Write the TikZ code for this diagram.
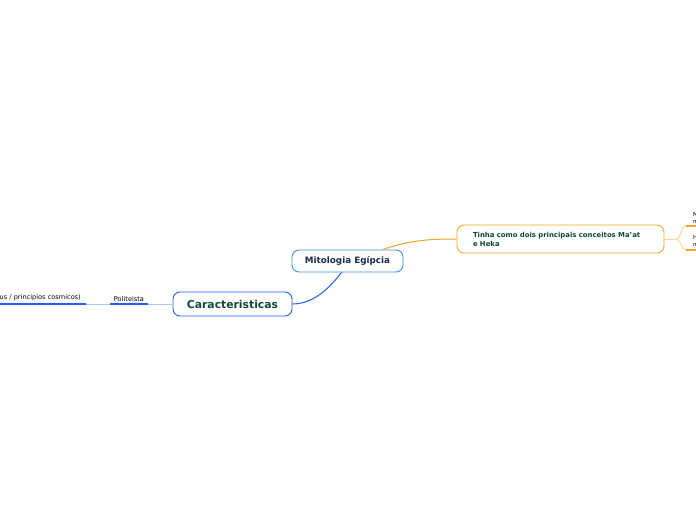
\documentclass[tikz,border=0pt]{standalone}
\usepackage{fontspec}
\setmainfont{DejaVu Sans}
\usetikzlibrary{shapes.geometric, arrows}
\definecolor{mitoblue}{HTML}{3D8FE0}
\definecolor{caracblue}{HTML}{2160F0}
\definecolor{paleblue}{HTML}{A8C8F8}
\definecolor{navytext}{HTML}{1B2A55}
\definecolor{greentext}{HTML}{0E4A3C}
\definecolor{mainorange}{HTML}{F5A52A}
\definecolor{paleorange}{HTML}{FCD49A}
\tikzstyle{topic} = [rectangle, rounded corners=7pt, draw, line width=0.9pt, fill=white, text centered, font=\bfseries]
\tikzstyle{leaf} = [inner xsep=4pt, inner ysep=2.5pt, font=\fontsize{6.6}{7.5}\selectfont]
\tikzstyle{branch} = [line width=1pt]

\begin{document}
\begin{tikzpicture}[x=1pt, y=-1pt]
    \useasboundingbox (0,0) rectangle (696,520);
    \node (mito) [topic, draw=mitoblue, text=navytext, font=\bfseries\fontsize{8.8}{10}\selectfont, minimum width=111pt, minimum height=22pt] at (347.5,261) {Mitologia Egípcia};
    \node (carac) [topic, draw=caracblue, text=greentext, font=\bfseries\fontsize{10.8}{12}\selectfont, minimum width=119pt, minimum height=24pt] at (232.5,304) {Caracteristicas};
    \node (tinha) [topic, draw=mainorange, text=greentext, font=\bfseries\fontsize{6.9}{9}\selectfont, minimum width=207pt, minimum height=28pt, text width=175pt, align=left, inner xsep=16pt] at (560.5,239) {Tinha como dois principais conceitos Ma'at\\e Heka};

    % left side
    \node (poli) [leaf, anchor=south, minimum width=38pt] at (129,304) {Politeista};
    \node (cosm) [leaf, anchor=south east, inner xsep=5pt] at (86,304) {(vários deus / principios cosmicos)};

    % right side (cut by the page edge)
    \coordinate (fork) at (676,239);
    \node (maat) [leaf, anchor=south west, align=left, inner xsep=7pt, font=\fontsize{5.6}{6.6}\selectfont] at (686,226) {Ma'at\\mundo};
    \node (heka) [leaf, anchor=south west, align=left, inner xsep=7pt, font=\fontsize{5.6}{6.6}\selectfont] at (686,250) {Heka\\magia};

    \draw [branch, caracblue] (carac.east) .. controls (312,304) and (328,290) .. ([xshift=-6pt]mito.south);
    \draw [branch, mainorange] ([xshift=35pt]mito.north) .. controls (410,240) and (430,239) .. (tinha.west);

    \draw [branch, paleblue] (carac.west) -- (poli.south east);
    \draw [line width=1.6pt, caracblue] (poli.south west) -- (poli.south east);
    \draw [branch, paleblue] (poli.south west) -- (cosm.south east);
    \draw [line width=1.6pt, caracblue] (cosm.south west) -- (cosm.south east);

    \draw [branch, paleorange] (tinha.east) -- (fork);
    \draw [branch, paleorange] (fork) .. controls (681,239) and (681,226) .. (maat.south west);
    \draw [branch, paleorange] (fork) .. controls (681,239) and (681,250) .. (heka.south west);
    \draw [line width=1.6pt, mainorange] (maat.south west) -- (maat.south east);
    \draw [line width=1.6pt, mainorange] (heka.south west) -- (heka.south east);
\end{tikzpicture}
\end{document}
